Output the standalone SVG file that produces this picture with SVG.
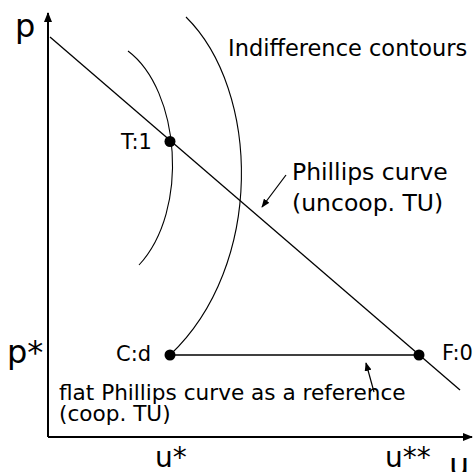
<svg xmlns="http://www.w3.org/2000/svg" width="476" height="472" viewBox="0 0 476 472">
<style>
text{font-family:"DejaVu Sans",sans-serif;fill:#000}
.big{font-size:32px}
.mid{font-size:28px}
.lab{font-size:21px}
.note{font-size:22.5px}
.pc{font-size:23.5px}
.fl{font-size:21.6px}
.ax{stroke:#000;stroke-width:2;fill:none}
.ln{stroke:#000;stroke-width:1.3;fill:none}
.ct{stroke:#000;stroke-width:1.1;fill:none}
.ar{stroke:#000;stroke-width:1.2;fill:none}
.pt{fill:#000}
</style>
<defs>
<marker id="axh" viewBox="0 0 10 8" refX="9" refY="4" markerWidth="10" markerHeight="8" markerUnits="userSpaceOnUse" orient="auto">
<path d="M0,0 L10,4 L0,8 Z" fill="#000"/>
</marker>
<marker id="sh" viewBox="0 0 10 8" refX="9" refY="4" markerWidth="9" markerHeight="7" markerUnits="userSpaceOnUse" orient="auto">
<path d="M0,0 L10,4 L0,8 Z" fill="#000"/>
</marker>
</defs>
<g id="connectors">
<path class="ax" d="M48,437 L48,13" marker-end="url(#axh)"/>
<path class="ax" d="M48,437 L472,437" marker-end="url(#axh)"/>
<path id="phillips" class="ln" d="M50,37 L460,390"/>
<path id="flat" class="ln" d="M170,355 L419,355"/>
<path id="contour1" class="ct" d="M128,51 C180,90 190,210 139,265"/>
<path id="contour2" class="ct" d="M186,17 C260,90 265,265 170,355"/>
<path class="ar" d="M286,175 L262,207" marker-end="url(#sh)"/>
<path class="ar" d="M374,392 L366,363" marker-end="url(#sh)"/>
</g>
<g id="T"><circle class="pt" cx="170" cy="141.5" r="5.5"/><text class="lab" x="121" y="149">T:1</text></g>
<g id="C"><circle class="pt" cx="170" cy="355" r="5.5"/><text class="lab" x="116" y="361">C:d</text></g>
<g id="F"><circle class="pt" cx="419" cy="355" r="5.5"/><text class="lab" x="442" y="360">F:0</text></g>
<g id="labels">
<text class="big" x="15" y="37">p</text>
<text class="big" x="7" y="363">p*</text>
<text class="mid" x="155" y="467">u*</text>
<text class="mid" x="385" y="467">u**</text>
<text class="big" x="449" y="476">u</text>
<text class="note" x="228" y="56">Indifference contours</text>
<text class="pc" x="292" y="180">Phillips curve</text>
<text class="pc" x="292" y="211">(uncoop. TU)</text>
<text class="fl" x="59" y="400">flat Phillips curve as a reference</text>
<text class="fl" x="59" y="421">(coop. TU)</text>
</g>
</svg>
